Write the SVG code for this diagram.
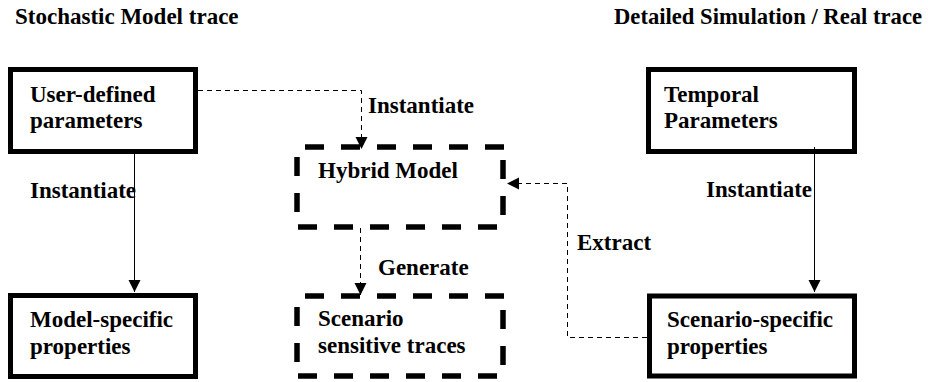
<svg xmlns="http://www.w3.org/2000/svg" width="928" height="382" viewBox="0 0 928 382">
  <style>
    text { font-weight: bold; font-size: 23px; fill: #000; }
    .solid-box { fill: #fff; stroke: #000; stroke-width: 5; }
    .dash-edge { fill: none; stroke: #000; stroke-width: 5.5; stroke-dasharray: 19 17; }
    .link { fill: none; stroke: #000; stroke-width: 1; }
    .link-dashed { fill: none; stroke: #000; stroke-width: 1; stroke-dasharray: 5 4; }
  </style>
  <defs>
    <marker id="arrow" markerUnits="userSpaceOnUse" markerWidth="13" markerHeight="13" refX="12" refY="6" orient="auto">
      <path d="M0,0 L12,6 L0,12 z" fill="#000"/>
    </marker>
  </defs>
  <rect width="928" height="382" fill="#fff"/>

  <g font-family="Liberation Serif, Times New Roman, DejaVu Serif, serif">
  <!-- column headings -->
  <text x="15" y="24">Stochastic Model trace</text>
  <text x="614" y="24" textLength="308" lengthAdjust="spacingAndGlyphs">Detailed Simulation / Real trace</text>

  <!-- connectors -->
  <g id="connectors">
    <path class="link" d="M134.5,154 V292" marker-end="url(#arrow)"/>
    <path class="link" d="M814.5,147 V292" marker-end="url(#arrow)"/>
    <path class="link-dashed" d="M198,90.5 H361.5 V149" marker-end="url(#arrow)"/>
    <path class="link-dashed" d="M360.5,228 V295" marker-end="url(#arrow)"/>
    <path class="link-dashed" d="M647,337.5 H567.5 V183.5 H507" marker-end="url(#arrow)"/>
    <text x="30" y="198">Instantiate</text>
    <text x="368" y="113">Instantiate</text>
    <text x="706" y="197">Instantiate</text>
    <text x="378" y="275">Generate</text>
    <text x="577" y="250">Extract</text>
  </g>

  <g id="user-defined-parameters">
    <rect class="solid-box" x="10.5" y="69.5" width="185" height="82"/>
    <text x="30" y="102">User-defined</text>
    <text x="30" y="128">parameters</text>
  </g>

  <g id="temporal-parameters">
    <rect class="solid-box" x="648.5" y="69.5" width="206" height="82" fill-opacity="0"/>
    <text x="664" y="102">Temporal</text>
    <text x="664" y="128">Parameters</text>
  </g>

  <g id="model-specific-properties">
    <rect class="solid-box" x="10.5" y="295.5" width="185" height="81"/>
    <text x="30" y="327">Model-specific</text>
    <text x="30" y="354">properties</text>
  </g>

  <g id="scenario-specific-properties">
    <rect class="solid-box" x="649.5" y="296" width="205" height="80"/>
    <text x="667" y="327">Scenario-specific</text>
    <text x="667" y="354">properties</text>
  </g>

  <g id="hybrid-model">
    <path class="dash-edge" d="M305,147 H504"/>
    <path class="dash-edge" d="M503,160 V228"/>
    <path class="dash-edge" d="M298,227 H504"/>
    <path class="dash-edge" d="M297,157 V228"/>
    <text x="318" y="178">Hybrid Model</text>
  </g>

  <g id="scenario-sensitive-traces">
    <path class="dash-edge" d="M305,296 H504"/>
    <path class="dash-edge" d="M503,310 V377"/>
    <path class="dash-edge" d="M298,376 H504"/>
    <path class="dash-edge" d="M297,307 V377"/>
    <text x="318" y="326">Scenario</text>
    <text x="318" y="353">sensitive traces</text>
  </g>
  </g>
</svg>
